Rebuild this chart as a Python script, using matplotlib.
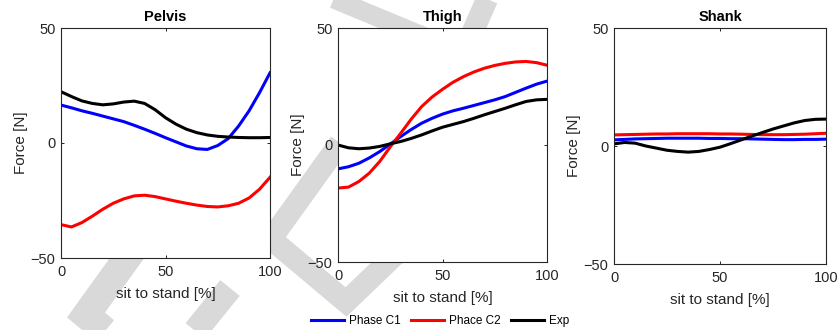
#!/bin/python
# -*- coding: utf-8 -*-

import matplotlib
matplotlib.use('Agg')
import matplotlib.pyplot as plt

# sit to stand progress [%]
x_pct = [0, 5, 10, 15, 20, 25, 30, 35, 40, 45, 50, 55, 60, 65, 70, 75, 80, 85, 90, 95, 100]

# Pelvis
pelvis_c1 = [16.5, 15.3, 14.0, 12.9, 11.7, 10.5, 9.3, 7.7, 6.0, 4.2, 2.3, 0.5, -1.3, -2.5, -2.8, -1.1, 1.9, 7.4, 14.0, 21.9, 30.5]
pelvis_c2 = [-35.5, -36.5, -34.6, -31.8, -28.8, -26.2, -24.3, -23.0, -22.7, -23.3, -24.3, -25.3, -26.2, -27.0, -27.6, -27.8, -27.3, -26.2, -23.9, -20.1, -14.9]
pelvis_exp = [22.3, 20.2, 18.3, 17.2, 16.6, 17.0, 17.8, 18.2, 17.2, 14.5, 11.0, 8.2, 6.0, 4.5, 3.5, 2.9, 2.6, 2.4, 2.3, 2.3, 2.4]

# Thigh
thigh_c1 = [-10.2, -9.3, -7.8, -5.5, -2.8, 0.4, 3.6, 6.6, 9.3, 11.4, 13.2, 14.6, 15.7, 16.9, 18.1, 19.3, 20.7, 22.5, 24.3, 26.0, 27.3]
thigh_c2 = [-18.4, -18.0, -15.6, -12.0, -7.0, -0.8, 5.0, 11.0, 16.4, 20.5, 23.8, 26.8, 29.2, 31.2, 32.8, 34.0, 34.9, 35.5, 35.7, 35.2, 34.1]
thigh_exp = [0.0, -1.2, -1.6, -1.3, -0.6, 0.5, 1.5, 2.8, 4.3, 6.0, 7.6, 8.8, 10.0, 11.4, 12.9, 14.3, 15.7, 17.2, 18.6, 19.3, 19.5]

# Shank
shank_c1 = [2.6, 2.8, 3.0, 3.1, 3.2, 3.3, 3.3, 3.3, 3.3, 3.2, 3.2, 3.1, 3.1, 3.0, 2.9, 2.8, 2.7, 2.7, 2.8, 2.8, 2.9]
shank_c2 = [4.7, 4.8, 4.9, 5.0, 5.1, 5.1, 5.2, 5.2, 5.2, 5.2, 5.1, 5.1, 5.0, 4.9, 4.8, 4.8, 4.8, 4.9, 5.0, 5.2, 5.4]
shank_exp = [0.9, 1.5, 1.2, 0.0, -0.9, -1.8, -2.3, -2.6, -2.3, -1.5, -0.5, 1.0, 2.6, 4.2, 5.7, 7.2, 8.5, 9.8, 10.8, 11.3, 11.4]

titles = ['Pelvis', 'Thigh', 'Shank']
series = [(pelvis_c1, pelvis_c2, pelvis_exp),
          (thigh_c1, thigh_c2, thigh_exp),
          (shank_c1, shank_c2, shank_exp)]
labels = ['Phase C1', 'Phace C2', 'Exp']
colors = ['#0000ff', '#ff0000', '#000000']

x_ticks = [0, 50, 100]
y_ticks = [-50, 0, 50]

W, H = 838, 330
DARK = '#262626'
plt.rcParams['font.family'] = ['Liberation Sans', 'DejaVu Sans']

fig = plt.figure(figsize=(W / 100.0, H / 100.0), dpi=100)

# watermark behind the axes (pixel coords, y down)
bg = fig.add_axes([0, 0, 1, 1], zorder=0)
bg.set_xlim(0, W)
bg.set_ylim(H, 0)
bg.axis('off')
wm = [([(300, -15), (430, 39)], 19),
      ([(492, -12), (470, 38)], 22),
      ([(340, 143), (271, 239), (346, 302), (420, 231)], 22),
      ([(140, 240), (86, 315), (135, 356)], 28),
      ([(230, 288), (188, 340)], 25)]
for pts, w in wm:
    bg.plot([p[0] for p in pts], [p[1] for p in pts], c='#d9d9d9', lw=w * 0.72,
            solid_joinstyle='miter', solid_capstyle='butt')

# axes boxes in pixels: left, top, right, bottom
boxes = [(61, 28, 270, 258), (338, 28, 547, 262), (614, 28, 826, 264)]

for i in range(3):
    l, t, r, b = boxes[i]
    ax = fig.add_axes([l / float(W), 1 - b / float(H), (r - l) / float(W), (b - t) / float(H)], zorder=1)
    ax.set_facecolor('white')
    for k in range(3):
        ax.plot(x_pct, series[i][k], c=colors[k], lw=2.2, label=labels[k])
    ax.set_xlim(0, 100)
    ax.set_ylim(-50, 50)
    ax.set_xticks(x_ticks)
    ax.set_yticks(y_ticks)
    ax.tick_params(direction='in', top=True, right=True, length=2.5, width=0.7,
                   colors=DARK, labelsize=10.5)
    ax.tick_params(axis='x', pad=5)
    ax.tick_params(axis='y', pad=4)
    for s in ax.spines.values():
        s.set_color(DARK)
        s.set_linewidth(0.8)
    ax.set_title(titles[i], fontsize=10.5, fontweight='bold', pad=5)
    ax.set_xlabel('sit to stand [%]', fontsize=11, color=DARK, labelpad=6)
    ax.set_ylabel('Force [N]', fontsize=11, color=DARK, labelpad=2)
    if i == 0:
        handles, _ = ax.get_legend_handles_labels()

fig.legend(handles, labels, loc='center', bbox_to_anchor=(440.0 / W, 1 - 321.0 / H),
           ncol=3, frameon=False, fontsize=8.5, handlelength=2.8, handletextpad=0.4,
           columnspacing=0.9, borderpad=0.1)

fig.savefig('out.png', dpi=100)
plt.close('all')
